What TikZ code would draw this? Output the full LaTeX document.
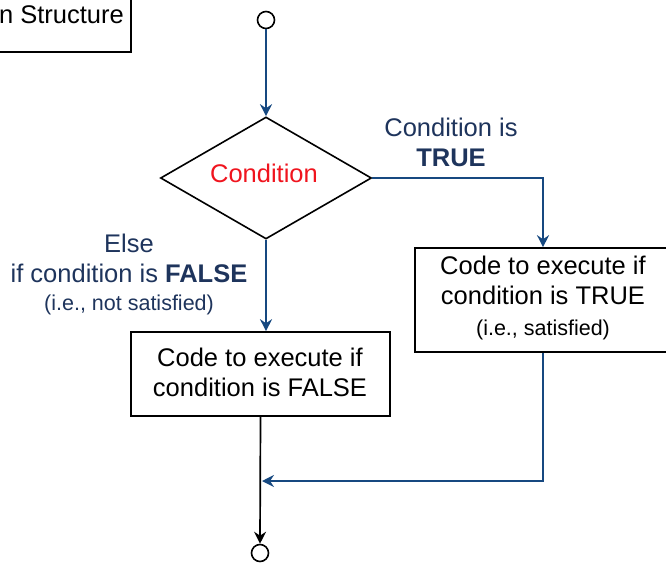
\documentclass[tikz,border=0pt]{standalone}
\usepackage{fontspec}
\setmainfont{Liberation Sans}
\usetikzlibrary{shapes.geometric,arrows.meta}
\definecolor{flowblue}{RGB}{22,72,128}
\definecolor{labelblue}{RGB}{30,52,92}
\definecolor{condred}{RGB}{240,20,30}
\tikzset{
  x=1pt, y=-1pt,
  boxstyle/.style={draw=black, line width=1.6pt, fill=white, inner sep=0pt},
  bigtext/.style={font=\fontsize{25.5}{30}\selectfont, align=center},
  smalltext/.style={font=\fontsize{21.5}{30}\selectfont},
  flowarrow/.style={draw=flowblue, line width=1.7pt, -{Stealth[length=12pt,width=12pt,inset=4pt]}},
  endarrow/.style={draw=black, line width=1.7pt, -{Stealth[length=12pt,width=12pt,inset=4pt]}},
  terminal/.style={circle, draw=black, line width=1.6pt, fill=white, minimum size=17pt, inner sep=0pt},
  edgelabel/.style={text=labelblue, align=center, font=\fontsize{25.5}{30}\selectfont},
}
\begin{document}
\begin{tikzpicture}
\useasboundingbox (0,0) rectangle (666,564);
\clip (0,0) rectangle (666,564);

% title box, running off the left edge
\draw[boxstyle] (-60,-10) rectangle (131,52);
\node[bigtext, anchor=east, inner xsep=0pt] (title) at (124,15) {n Structure};

% start and end terminals
\node[terminal] (start) at (266,20) {};
\node[terminal] (stop) at (260,553) {};

% decision
\node[diamond, draw=black, line width=1.6pt, fill=white, minimum width=211pt, minimum height=122pt, inner sep=0pt, aspect=1.73] (cond) at (266,178) {};
\node[bigtext, text=condred] (condtext) at (264,173) {Condition};

% branch boxes
\node[boxstyle, minimum width=256pt, minimum height=104pt] (truebox) at (543,300) {};
\node[bigtext, anchor=north] (truetxt) at (543,252) {Code to execute if\\condition is TRUE};
\node[smalltext, anchor=base] (truesub) at (543,335) {(i.e., satisfied)};

\node[boxstyle, minimum width=259pt, minimum height=84pt] (falsebox) at (260.5,374) {};
\node[bigtext] (falsetxt) at (260,372) {Code to execute if\\condition is FALSE};

% branch labels
\node[edgelabel] (truelbl) at (451,142) {Condition is\\\textbf{TRUE}};
\node[edgelabel] (falselbl) at (129,258) {Else\\if condition is \textbf{FALSE}};
\node[smalltext, text=labelblue, anchor=base] (falsesub) at (129,310) {(i.e., not satisfied)};

% merge point on the final line
\coordinate (merge) at (262,481);
\coordinate (trueturn) at (cond.east -| truebox.north);
\coordinate (mergeturn) at (truebox.south |- merge);

% connectors
\draw[flowarrow] (start) -- (cond.north);
\draw[flowarrow] (cond.east) -- (trueturn) -- (truebox.north);
\draw[flowarrow] (cond.south) -- (cond.south |- falsebox.north);
\draw[flowarrow] (truebox.south) -- (mergeturn) -- (merge);
\draw[endarrow] (falsebox.south) -- (stop.north);
\end{tikzpicture}
\end{document}
